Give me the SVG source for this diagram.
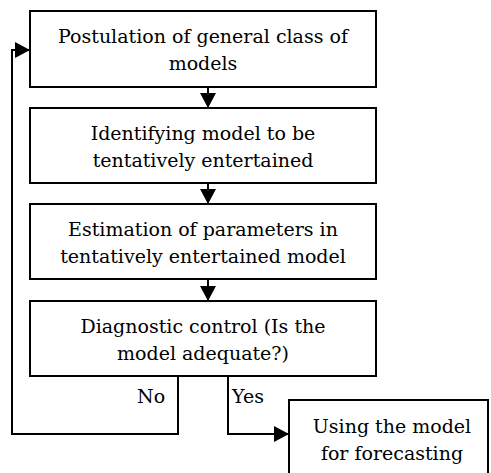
<svg xmlns="http://www.w3.org/2000/svg" width="491" height="473" viewBox="0 0 491 473">
<style>
.box{fill:#fff;stroke:#000;stroke-width:2}
.c{fill:none;stroke:#000;stroke-width:2}
</style>
<defs>
<marker id="ah" markerUnits="userSpaceOnUse" markerWidth="15" markerHeight="16" refX="15" refY="8" orient="auto" viewBox="0 0 15 16">
<path d="M0,0 L15,8 L0,16 z" fill="#000"/>
</marker>
</defs>
<rect width="491" height="473" fill="#fff"/>
<g font-family="'DejaVu Serif', 'Liberation Serif', serif" font-size="19" fill="#000">
<g id="connectors">
<line class="c" x1="208" y1="87" x2="208" y2="108" marker-end="url(#ah)"/>
<line class="c" x1="208" y1="183" x2="208" y2="204" marker-end="url(#ah)"/>
<line class="c" x1="208" y1="279" x2="208" y2="301" marker-end="url(#ah)"/>
<polyline class="c" points="178,376 178,434 12,434 12,50 30,50" marker-end="url(#ah)"/>
<polyline class="c" points="228,376 228,434 289,434" marker-end="url(#ah)"/>
<text x="137" y="403">No</text>
<text x="232" y="403">Yes</text>
</g>
<g id="node1" text-anchor="middle">
<rect class="box" x="30" y="11" width="346" height="76"/>
<text x="203" y="43">Postulation of general class of</text>
<text x="203" y="70">models</text>
</g>
<g id="node2" text-anchor="middle">
<rect class="box" x="30" y="108" width="346" height="75"/>
<text x="203" y="140">Identifying model to be</text>
<text x="203" y="167">tentatively entertained</text>
</g>
<g id="node3" text-anchor="middle">
<rect class="box" x="30" y="204" width="346" height="75"/>
<text x="203" y="236">Estimation of parameters in</text>
<text x="203" y="263">tentatively entertained model</text>
</g>
<g id="node4" text-anchor="middle">
<rect class="box" x="30" y="301" width="346" height="75"/>
<text x="203" y="333">Diagnostic control (Is the</text>
<text x="203" y="360">model adequate?)</text>
</g>
<g id="node5" text-anchor="middle">
<rect class="box" x="289" y="400" width="199" height="85"/>
<text x="392" y="433">Using the model</text>
<text x="392" y="460">for forecasting</text>
</g>
</g>
</svg>
